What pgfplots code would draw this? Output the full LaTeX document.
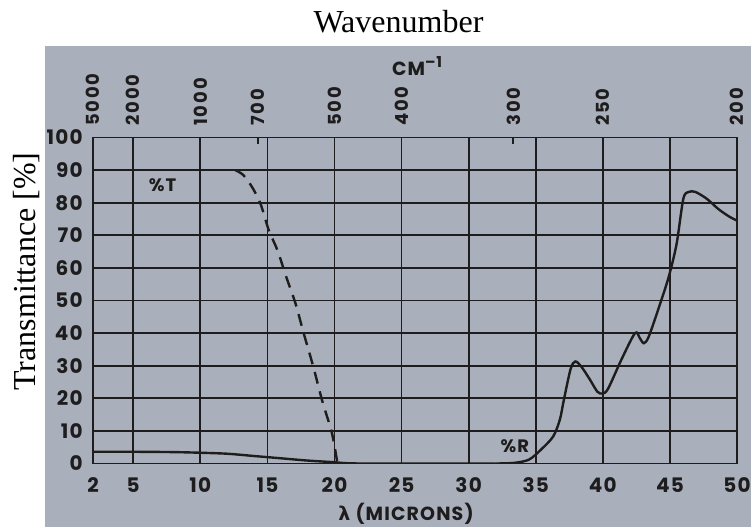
\documentclass[border=0pt]{standalone}
\usepackage{fontspec}
\setmainfont{Liberation Serif}
\newfontfamily\scan{Poppins}[LetterSpace=6]
\newfontfamily\scantop{Poppins}[LetterSpace=10]
\newfontfamily\dejavu{DejaVu Sans}
\usepackage{pgfplots}
\pgfplotsset{compat=1.18}
\definecolor{bg}{RGB}{169,176,187}
\definecolor{ink}{RGB}{30,28,28}

\begin{document}
\begin{tikzpicture}
\useasboundingbox (-46.5pt,-31.75pt) rectangle (329pt,231.75pt);
\fill[white] (-46.5pt,-31.75pt) rectangle (329pt,231.75pt);
\fill[bg] (-24pt,-31.75pt) rectangle (329pt,208.75pt);
\begin{axis}[
  at={(0pt,0pt)}, anchor=south west,
  scale only axis, width=322pt, height=163pt,
  xmin=2, xmax=50, ymin=0, ymax=100,
  axis line style={ink, line width=0.9pt},
  xtick={2,5,10,15,20,25,30,35,40,45,50},
  xticklabels={2,5,10,15,20,25,30,35,40,45,50},
  ytick={0,10,20,30,40,50,60,70,80,90,100},
  yticklabels={0,10,20,30,40,50,60,70,80,90,100},
  grid=major, major grid style={ink, line width=0.9pt},
  major tick length=0pt,
  xticklabel style={font=\scan\bfseries\fontsize{10}{12}\selectfont, text=ink, anchor=center, yshift=-10.75pt},
  yticklabel style={font=\scan\bfseries\fontsize{10}{12}\selectfont, text=ink, anchor=east, inner sep=0pt, xshift=-5pt},
]
\addplot[ink, line width=1.2pt] coordinates {(2,90) (12.6,90)};
\addplot[ink, line width=1.2pt, smooth, tension=0.5, dash pattern=on 6pt off 4pt] coordinates {
 (12.6,90) (13.2,88.5) (13.9,84.5) (14.5,79.5) (15.1,71.6) (15.75,65.4) (16.4,57.3)
 (17.1,49) (17.7,40) (18.4,30) (19.1,19) (19.8,9.5) (20.2,0.5)};
\addplot[ink, line width=1.2pt, smooth, tension=0.5] coordinates {
 (2,3.6) (5,3.6) (8,3.5) (10,3.3) (12,3.0) (14,2.3) (16,1.6) (18,0.9) (20,0.4) (22,0) (32,0)};
\addplot[ink, line width=1.2pt, smooth, tension=0.5] coordinates {
 (32,0) (33.4,0.2) (34.5,1.2) (35.4,4.3) (36.3,8.3) (36.8,13.5) (37.1,19.6) (37.6,29)
 (37.95,31.3) (38.4,29.7) (39,26) (39.6,22) (40,21.5) (40.4,23) (41.4,32) (42.4,40)
 (42.75,38.5) (43.05,36.9) (43.4,38.7) (44.1,46.9) (44.9,57.1) (45.5,67.4) (46,81.2)
 (46.4,83.3) (46.9,83.3) (47.75,81.2) (48.6,78.1) (49.4,75.8) (50,74.5)};
\node[font=\scan\bfseries\fontsize{9}{11}\selectfont, text=ink] at (axis cs:7.18,85.4) {\%T};
\node[font=\scan\bfseries\fontsize{9}{11}\selectfont, text=ink] at (axis cs:33.45,5.2) {\%R};
\end{axis}
\begin{axis}[
  at={(0pt,0pt)}, anchor=south west,
  scale only axis, width=322pt, height=163pt,
  xmin=2, xmax=50, ymin=0, ymax=100,
  axis x line*=top, axis y line=none,
  axis line style={draw=none},
  xtick={2,5,10,14.2857,20,25,33.3333,40,50},
  xticklabels={5000,2000,1000,700,500,400,300,250,200},
  xticklabel style={yshift=5.75pt, rotate=90, anchor=west, inner sep=0pt,
    font=\scantop\bfseries\fontsize{9}{11}\selectfont, text=ink},
  tick align=inside, major tick length=3pt,
  tick style={ink, line width=0.9pt},
]
\addplot[draw=none] coordinates {(2,0) (50,100)};
\end{axis}
\node[anchor=base, font=\fontsize{16}{19}\selectfont] at (152.75pt,215.75pt) {Wavenumber};
\node[rotate=90, font=\fontsize{16}{19}\selectfont] at (-33pt,96pt) {Transmittance [\%]};
\node[anchor=base west, font=\scan\bfseries\fontsize{9.5}{11}\selectfont, text=ink] at (146pt,194.25pt) {CM\raisebox{4pt}{\fontsize{7.5}{9}\selectfont –1}};
\node[font=\scan\bfseries\fontsize{9.5}{11}\selectfont, text=ink] at (156.5pt,-25.25pt) {{\dejavu\bfseries λ} (MICRONS)};
\end{tikzpicture}
\end{document}
